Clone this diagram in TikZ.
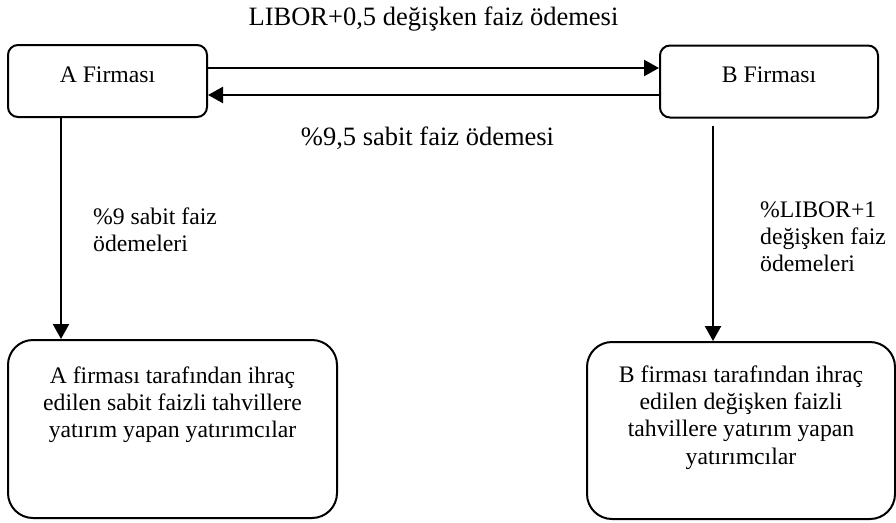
\documentclass[tikz,border=0pt]{standalone}
\usepackage{fontspec}
\setmainfont{Liberation Serif}
\usetikzlibrary{arrows.meta}
\usetikzlibrary{calc}

\tikzset{
    firm/.style={draw,line width=2pt,rounded corners=10pt,minimum height=72pt,
        text height=16pt,text depth=14pt,font=\fontsize{23.7}{27.3}\selectfont},
    investor/.style={draw,line width=2pt,rounded corners=25pt},
    txt/.style={font=\fontsize{23.7}{27.3}\selectfont,inner sep=0pt},
    flow/.style={line width=2.4pt,-{Triangle[length=15pt,width=16pt]}},
    flowlbl/.style={font=\fontsize{26.5}{30.5}\selectfont,inner sep=0pt,anchor=base},
}

\begin{document}
\begin{tikzpicture}[x=1pt,y=-1pt]
    \useasboundingbox (0,0) rectangle (896,522);

    \node[firm,minimum width=199pt] (firmA) at (107.5,81) {A Firması};
    \node[firm,minimum width=218pt] (firmB) at (769,81.5) {B Firması};

    \node[investor,minimum width=329pt,minimum height=178pt] (invA) at (172.5,429) {};
    \node[investor,minimum width=308pt,minimum height=177pt] (invB) at (741,430.5) {};
    % base = last line
    \node[txt,align=center,anchor=base] (invAtxt) at (172.5,437.6)
        {A firması tarafından ihraç\\edilen sabit faizli tahvillere\\yatırım yapan yatırımcılar};
    \node[txt,align=center,anchor=base] (invBtxt) at (741,464)
        {B firması tarafından ihraç\\edilen değişken faizli\\tahvillere yatırım yapan\\yatırımcılar};

    % swap payments
    \draw[flow] ([yshift=13pt]firmA.east) -- ([yshift=13pt]firmA.east -| firmB.west)
        node[flowlbl,midway,yshift=43pt] {LIBOR+0,5 değişken faiz ödemesi};
    \draw[flow] ([yshift=-14pt]firmA.east -| firmB.west) -- ([yshift=-14pt]firmA.east)
        node[flowlbl,midway,yshift=-50pt,xshift=-6pt] {\%9,5 sabit faiz ödemesi};

    % bond payments
    \draw[flow] ([xshift=-46.5pt]firmA.south) -- ([xshift=-46.5pt]firmA.south |- invA.north);
    \draw[flow,shorten <=7pt] ([xshift=-56pt]firmB.south) -- ([xshift=-56pt]firmB.south |- invB.north);

    \node[txt,align=left,anchor=base west] (payA) at (93,251.3) {\%9 sabit faiz\\ödemeleri};
    \node[txt,align=left,anchor=base west] (payB) at (760,271.6) {\%LIBOR+1\\değişken faiz\\ödemeleri};
\end{tikzpicture}
\end{document}
